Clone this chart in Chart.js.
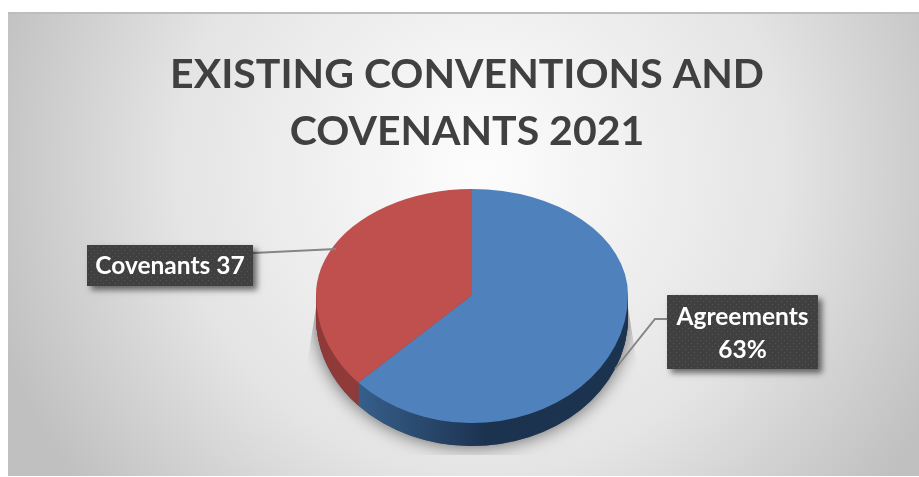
<!DOCTYPE html>
<html>
<head>
<meta charset="utf-8">
<script src="https://cdn.jsdelivr.net/npm/chart.js@4"></script>
<style>
  html, body { margin: 0; padding: 0; background: #fff; }
  canvas { display: block; }
</style>
</head>
<body>
<canvas id="pieChart" width="919" height="477"></canvas>
<script>
var titleLines = ['EXISTING CONVENTIONS AND', 'COVENANTS 2021'];
var categories = ['Agreements', 'Covenants'];
var values     = [63, 37];
var faceColors = ['#4f81bd', '#c0504d'];

// Where the tilted pie sits on the page
var PIE_X = 472, PIE_APEX_Y = 295, RY_BACK = 106, RY_FRONT = 128, DEPTH = 23;

function dotPattern(ctx) {
  var tile = document.createElement('canvas');
  tile.width = tile.height = 6;
  var t = tile.getContext('2d');
  t.fillStyle = '#404040';
  t.fillRect(0, 0, 6, 6);
  t.fillStyle = '#565656';
  t.fillRect(1, 1, 1, 1);
  t.fillRect(4, 4, 1, 1);
  return ctx.createPattern(tile, 'repeat');
}

// Same arc, other fill: used for the rim of the pie
function drawArcAs(ctx, arc, color) {
  var copy = Object.create(arc);
  copy.options = Object.assign({}, arc.options, { backgroundColor: color, borderWidth: 0 });
  copy.draw(ctx);
}

function squash(ctx, arc, ry, yOffset) {
  ctx.translate(PIE_X - arc.x, PIE_APEX_Y + yOffset);
  ctx.scale(1, ry / arc.outerRadius);
  ctx.translate(0, -arc.y);
}

var backdrop = {
  id: 'backdrop',
  beforeDraw: function(chart) {
    var ctx = chart.ctx;
    var g = ctx.createRadialGradient(480, 170, 0, 480, 170, 510);
    g.addColorStop(0, '#fdfdfd');
    g.addColorStop(0.6, '#e4e4e4');
    g.addColorStop(0.8, '#d2d2d2');
    g.addColorStop(1, '#c0c0c0');
    ctx.save();
    ctx.fillStyle = g;
    ctx.fillRect(8, 13, 911, 463);
    ctx.fillStyle = '#bdbdbd';
    ctx.fillRect(8, 12, 911, 2);
    ctx.restore();
  }
};

var tiltedPie = {
  id: 'tiltedPie',
  beforeDatasetsDraw: function(chart) {
    var ctx = chart.ctx;
    var arcs = chart.getDatasetMeta(0).data;
    var side = ctx.createLinearGradient(345, 0, 480, 0);
    side.addColorStop(0, '#38628f');
    side.addColorStop(1, '#1c3350');
    var sideColors = [side, '#8f3b39'];

    // soft shadow under the pie, cut off in a tapered box like the original
    ctx.save();
    ctx.beginPath();
    ctx.moveTo(626, 295);
    ctx.lineTo(638, 370);
    ctx.lineTo(640, 455);
    ctx.lineTo(304, 455);
    ctx.lineTo(306, 370);
    ctx.lineTo(318, 295);
    ctx.closePath();
    ctx.clip();
    ctx.save();
    squash(ctx, arcs[0], RY_FRONT, DEPTH);
    ctx.shadowColor = 'rgba(0,0,0,0.6)';
    ctx.shadowBlur = 18;
    arcs.forEach(function(arc) { drawArcAs(ctx, arc, '#555'); });
    ctx.restore();
    ctx.restore();

    // rim: the front half of each arc stacked downwards
    ctx.save();
    ctx.beginPath();
    ctx.rect(0, PIE_APEX_Y, 919, 477 - PIE_APEX_Y);
    ctx.clip();
    for (var d = DEPTH; d > 0; d--) {
      ctx.save();
      squash(ctx, arcs[0], RY_FRONT, d);
      arcs.forEach(function(arc, i) { drawArcAs(ctx, arc, sideColors[i]); });
      ctx.restore();
    }
    ctx.restore();

    // top face in two halves, the near half is bigger (perspective)
    [[0, PIE_APEX_Y, RY_BACK], [PIE_APEX_Y, 477 - PIE_APEX_Y, RY_FRONT]].forEach(function(part) {
      ctx.save();
      ctx.beginPath();
      ctx.rect(0, part[0], 919, part[1]);
      ctx.clip();
      squash(ctx, arcs[0], part[2], 0);
      arcs.forEach(function(arc) { arc.draw(ctx); });
      ctx.restore();
    });
    return false;
  }
};

function calloutBox(ctx, x, y, w, h, lines, lineYs) {
  ctx.save();
  ctx.shadowColor = 'rgba(0,0,0,0.55)';
  ctx.shadowBlur = 6;
  ctx.shadowOffsetX = 4;
  ctx.shadowOffsetY = 4;
  ctx.fillStyle = '#404040';
  ctx.fillRect(x, y, w, h);
  ctx.restore();
  ctx.save();
  ctx.fillStyle = dotPattern(ctx);
  ctx.fillRect(x, y, w, h);
  ctx.fillStyle = '#fff';
  ctx.font = 'bold 24.5px Lato, Carlito, sans-serif';
  ctx.textAlign = 'center';
  ctx.textBaseline = 'middle';
  lines.forEach(function(line, i) {
    ctx.fillText(line, x + w / 2, lineYs[i]);
  });
  ctx.restore();
}

// beforeDatasetsDraw returns false, so afterDatasetsDraw never fires: use afterDraw
var callouts = {
  id: 'callouts',
  afterDraw: function(chart) {
    var ctx = chart.ctx;
    ctx.save();
    ctx.strokeStyle = '#858585';
    ctx.lineWidth = 2;
    ctx.beginPath();
    ctx.moveTo(253, 253);
    ctx.lineTo(336, 249);
    ctx.moveTo(667, 319);
    ctx.lineTo(655, 319);
    ctx.lineTo(615, 369);
    ctx.stroke();
    ctx.restore();
    calloutBox(ctx, 87, 245, 166, 41, [categories[1] + ' ' + values[1]], [266]);
    calloutBox(ctx, 667, 295, 151, 74, [categories[0], values[0] + '%'], [317, 350]);
  }
};

new Chart(document.getElementById('pieChart'), {
  type: 'pie',
  data: {
    labels: categories,
    datasets: [{
      data: values,
      backgroundColor: faceColors,
      borderWidth: 0
    }]
  },
  plugins: [backdrop, tiltedPie, callouts],
  options: {
    responsive: false,
    animation: false,
    devicePixelRatio: 1,
    layout: { padding: { left: 15, right: 0, top: 0, bottom: 5 } },
    plugins: {
      legend: { display: false },
      tooltip: { enabled: false },
      title: {
        display: true,
        text: titleLines,
        color: '#404040',
        font: { family: 'Lato, Carlito, sans-serif', size: 41, weight: 'bold', lineHeight: 1.39 },
        padding: { top: 46, bottom: 0 }
      }
    }
  }
});
</script>
</body>
</html>
